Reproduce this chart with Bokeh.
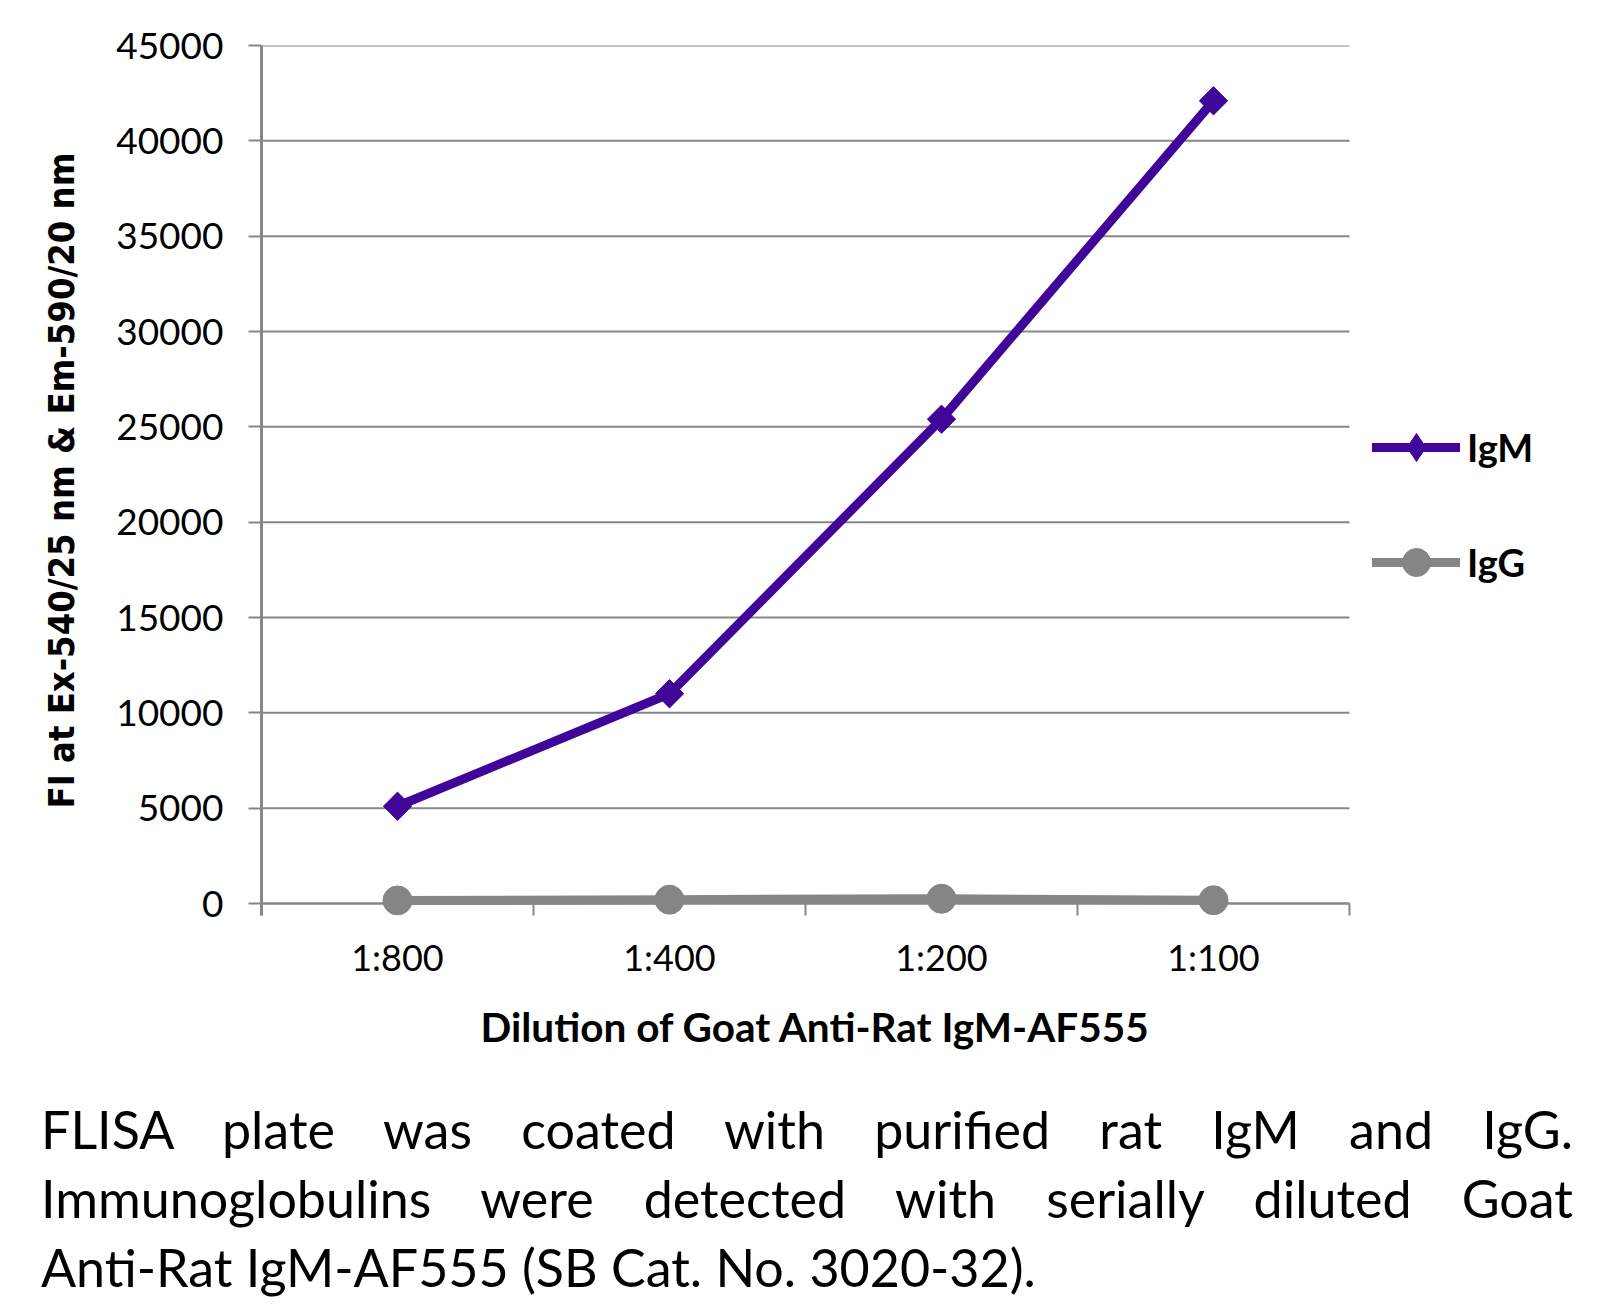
import math
from bokeh.plotting import figure
from bokeh.models import FixedTicker, Legend, LegendItem, Div, Range1d, Title
from bokeh.layouts import column
from bokeh.embed import file_html
from bokeh.resources import INLINE

# ---- data ----
dilutions = ["1:800", "1:400", "1:200", "1:100"]
igm = [5100, 11000, 25400, 42100]
igg = [160, 200, 250, 170]
y_ticks = [0, 5000, 10000, 15000, 20000, 25000, 30000, 35000, 40000, 45000]
x_title = "Dilution of Goat Anti-Rat IgM-AF555"
y_title = "FI at Ex-540/25 nm & Em-590/20 nm"
caption_lines = [
    "FLISA plate was coated with purified rat IgM and IgG.",
    "Immunoglobulins were detected with serially diluted Goat",
    "Anti-Rat IgM-AF555 (SB Cat. No. 3020-32).",
]

IGM_COLOR = "#40069A"
IGG_COLOR = "#858585"
GRID = "#878787"

# layout constants (pixels)
W, H = 1618, 1090
FRAME_LEFT, PLOT_RIGHT = 261, 1349
FRAME_TOP, ZERO_Y, BELOW_ZERO = 45, 903, 12
frame_bottom = ZERO_Y + BELOW_ZERO
n_cat = len(dilutions)
y_top = y_ticks[-1]
y_start = -BELOW_ZERO * y_top / (ZERO_Y - FRAME_TOP)
# frame runs to the right edge (room for the legend); plot area spans categories 0..n_cat
x_end = n_cat * (W - FRAME_LEFT) / (PLOT_RIGHT - FRAME_LEFT)

xs = [i + 0.5 for i in range(n_cat)]

p = figure(width=W, height=H, output_backend="svg", toolbar_location=None,
           x_range=Range1d(0, x_end), y_range=Range1d(y_start, y_top),
           min_border_left=FRAME_LEFT, min_border_right=0,
           min_border_top=FRAME_TOP, min_border_bottom=H - frame_bottom)
p.outline_line_color = None
p.background_fill_color = "white"
p.border_fill_color = "white"

# horizontal gridlines (and the zero axis line) limited to the category span
p.segment(x0=[0] * len(y_ticks), x1=[n_cat] * len(y_ticks), y0=y_ticks, y1=y_ticks,
          line_color=GRID, line_width=[2.5 if t == 0 else 2 for t in y_ticks])
p.xgrid.grid_line_color = None
p.ygrid.grid_line_color = None

# x axis: labels at category centres, boundary ticks drawn from zero line down
p.xaxis.ticker = FixedTicker(ticks=xs, minor_ticks=list(range(n_cat + 1)))
p.xaxis.major_label_overrides = {x: d for x, d in zip(xs, dilutions)}
p.xaxis.major_tick_out = 0
p.xaxis.major_tick_in = 0
p.xaxis.minor_tick_out = 0
p.xaxis.minor_tick_in = BELOW_ZERO
p.xaxis.minor_tick_line_color = GRID
p.xaxis.minor_tick_line_width = 2
p.xaxis.axis_line_color = None
p.xaxis.major_label_text_font = "Lato"
p.xaxis.major_label_text_font_size = "36px"
p.xaxis.major_label_text_color = "black"
p.xaxis.major_label_standoff = 19
p.add_layout(Title(text=x_title, align="left", offset=219, standoff=36,
                   text_font="Lato", text_font_style="bold", text_font_size="40.5px",
                   text_color="black"), "below")

# y axis
p.yaxis.ticker = FixedTicker(ticks=y_ticks)
p.yaxis.major_tick_out = 13
p.yaxis.major_tick_in = 0
p.yaxis.major_tick_line_color = GRID
p.yaxis.major_tick_line_width = 2
p.yaxis.minor_tick_line_color = None
p.yaxis.axis_line_color = GRID
p.yaxis.axis_line_width = 3
p.yaxis.major_label_text_font = "Lato"
p.yaxis.major_label_text_font_size = "37px"
p.yaxis.major_label_text_color = "black"
p.yaxis.major_label_standoff = 25
p.yaxis.axis_label = y_title
p.yaxis.axis_label_text_font = "'DejaVu Sans Condensed', 'Liberation Sans Narrow', Lato"
p.yaxis.axis_label_text_font_style = "bold"
p.yaxis.axis_label_text_font_size = "36px"
p.yaxis.axis_label_text_color = "black"
p.yaxis.axis_label_standoff = 31

# series
l_igg = p.line(xs, igg, line_color=IGG_COLOR, line_width=9, line_cap="round", line_join="round")
s_igg = p.scatter(xs, igg, marker="circle", size=29, fill_color=IGG_COLOR, line_color=IGG_COLOR)
l_igm = p.line(xs, igm, line_color=IGM_COLOR, line_width=9, line_cap="round", line_join="round")
k_igm = p.scatter(xs, igm, marker="diamond", size=20, fill_color=IGM_COLOR, line_color=IGM_COLOR)
s_igm = p.scatter(xs, igm, marker="square", angle=math.pi / 4, size=20,
                  fill_color=IGM_COLOR, line_color=IGM_COLOR)

GLYPH_H = 70
legend = Legend(items=[LegendItem(label="IgM", renderers=[l_igm, k_igm]),
                       LegendItem(label="IgG", renderers=[l_igg, s_igg])],
                location=(1372 - FRAME_LEFT, frame_bottom - 582 - (GLYPH_H - 40) // 2),
                orientation="vertical")
legend.glyph_width = 88
legend.glyph_height = GLYPH_H
legend.label_height = GLYPH_H
legend.spacing = 115 - GLYPH_H
legend.padding = 0
legend.margin = 0
legend.label_standoff = 7
legend.border_line_alpha = 0
legend.background_fill_alpha = 0
legend.label_text_font = "Lato"
legend.label_text_font_style = "bold"
legend.label_text_font_size = "38px"
legend.label_text_color = "black"
p.add_layout(legend)

# caption
rows = []
for i, line in enumerate(caption_lines):
    last = "justify" if i < len(caption_lines) - 1 else "left"
    rows.append(f'<div style="text-align:justify;text-align-last:{last};white-space:nowrap;">{line}</div>')
html = ('<div style="margin-left:36px;width:1532px;font-family:Lato;font-size:52px;'
        'line-height:69px;color:black;">' + "".join(rows) + '</div>')
cap = Div(text=html, width=W, height=218)

layout = column(p, cap, spacing=0)
open("out.html", "w").write(file_html(layout, INLINE))
